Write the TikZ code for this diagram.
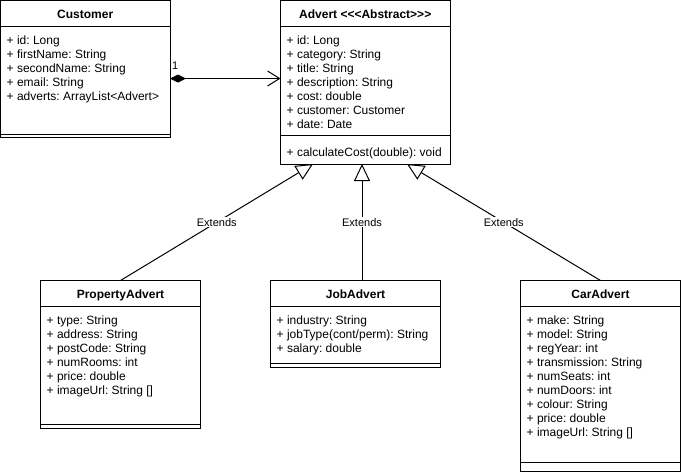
\documentclass[tikz,border=0pt]{standalone}
\usepackage{fontspec}
\setmainfont{Liberation Sans}
\usetikzlibrary{arrows.meta,calc}
\tikzset{
  box/.style={draw, line width=1pt, inner sep=0pt, outer sep=0pt, anchor=north west, fill=white},
  ttl/.style={anchor=base, inner sep=0pt, font=\fontsize{12}{14}\selectfont\bfseries\frenchspacing},
  attrs/.style={anchor=north west, inner sep=0pt, align=left, font=\fontsize{12}{14}\selectfont\frenchspacing},
  sepline/.style={line width=1pt},
  ext/.style={line width=1pt, -{Triangle[open,length=17pt,width=16pt]}},
  extlbl/.style={fill=white, inner sep=1pt, font=\fontsize{11}{13}\selectfont},
  comp/.style={line width=1pt, {Diamond[length=16pt,width=8pt]}-{Straight Barb[length=12pt,width=15pt]}},
  mult/.style={inner sep=0pt, anchor=base west, font=\fontsize{11}{13}\selectfont},
}
\begin{document}
\begin{tikzpicture}[x=1pt,y=-1pt]
\useasboundingbox[fill=white] (0,0) rectangle (681,474);

% Customer
\node[box, minimum width=169.5pt, minimum height=137pt] (cust) at (0.5,0.5) {};
\draw[sepline] ($(cust.north west)+(0,25.5)$) -- ($(cust.north east)+(0,25.5)$);
\draw[sepline] ($(cust.north west)+(0,133.5)$) -- ($(cust.north east)+(0,133.5)$);
\node[ttl] (custttl) at ($(cust.north)+(0,18)$) {Customer};
\node[attrs] (custattr) at ($(cust.north west)+(6,34.2)$) {\strut+ id: Long\\+ firstName: String\\+ secondName: String\\+ email: String\\+ adverts: ArrayList<Advert>};

% Advert
\node[box, minimum width=169.5pt, minimum height=163.5pt] (adv) at (280.5,0.5) {};
\draw[sepline] ($(adv.north west)+(0,25.5)$) -- ($(adv.north east)+(0,25.5)$);
\draw[sepline] ($(adv.north west)+(0,134.5)$) -- ($(adv.north east)+(0,134.5)$);
\node[ttl] (advttl) at ($(adv.north)+(0,18)$) {Advert <\kern0pt<\kern0pt<Abstract>\kern0pt>\kern0pt>};
\node[attrs] (advattr) at ($(adv.north west)+(6,34.2)$) {\strut+ id: Long\\+ category: String\\+ title: String\\+ description: String\\+ cost: double\\+ customer: Customer\\+ date: Date};
\node[attrs] (advmeth) at ($(adv.north west)+(6,145.7)$) {\strut+ calculateCost(double): void};

% PropertyAdvert
\node[box, minimum width=160pt, minimum height=147.5pt] (prop) at (40.5,280.5) {};
\draw[sepline] ($(prop.north west)+(0,25.5)$) -- ($(prop.north east)+(0,25.5)$);
\draw[sepline] ($(prop.north west)+(0,143.5)$) -- ($(prop.north east)+(0,143.5)$);
\node[ttl] (propttl) at ($(prop.north)+(0,18)$) {PropertyAdvert};
\node[attrs] (propattr) at ($(prop.north west)+(6,34)$) {\strut+ type: String\\+ address: String\\+ postCode: String\\+ numRooms: int\\+ price: double\\+ imageUrl: String []};

% JobAdvert
\node[box, minimum width=170pt, minimum height=86.5pt] (job) at (270.5,280.5) {};
\draw[sepline] ($(job.north west)+(0,25.5)$) -- ($(job.north east)+(0,25.5)$);
\draw[sepline] ($(job.north west)+(0,82.5)$) -- ($(job.north east)+(0,82.5)$);
\node[ttl] (jobttl) at ($(job.north)+(0,18)$) {JobAdvert};
\node[attrs] (jobattr) at ($(job.north west)+(6,34)$) {\strut+ industry: String\\+ jobType(cont/perm): String\\+ salary: double};

% CarAdvert
\node[box, minimum width=160pt, minimum height=191pt] (car) at (520.5,280.5) {};
\draw[sepline] ($(car.north west)+(0,25.5)$) -- ($(car.north east)+(0,25.5)$);
\draw[sepline] ($(car.north west)+(0,181.5)$) -- ($(car.north east)+(0,181.5)$);
\node[ttl] (carttl) at ($(car.north)+(0,18)$) {CarAdvert};
\node[attrs] (carattr) at ($(car.north west)+(6,34)$) {\strut+ make: String\\+ model: String\\+ regYear: int\\+ transmission: String\\+ numSeats: int\\+ numDoors: int\\+ colour: String\\+ price: double\\+ imageUrl: String []};

% Composition
\coordinate (cstart) at ($(cust.north east)+(0,78)$);
\coordinate (cend) at ($(adv.north west)+(0,78)$);
\draw[comp] (cstart) -- (cend);
\node[mult] (one) at ($(cust.north east)+(2,69)$) {1};

% Generalizations
\coordinate (tipL) at ($(adv.south west)+(32.5,0)$);
\coordinate (tipM) at ($(adv.south west)+(81.5,0)$);
\coordinate (tipR) at ($(adv.south west)+(126.5,0)$);
\coordinate (jobtop) at ($(job.north)+(6.5,0)$);
\draw[ext] (prop.north) -- node[extlbl] (extL) {Extends} (tipL);
\draw[ext] (jobtop) -- node[extlbl] (extM) {Extends} (tipM);
\draw[ext] (car.north) -- node[extlbl] (extR) {Extends} (tipR);
\end{tikzpicture}
\end{document}
